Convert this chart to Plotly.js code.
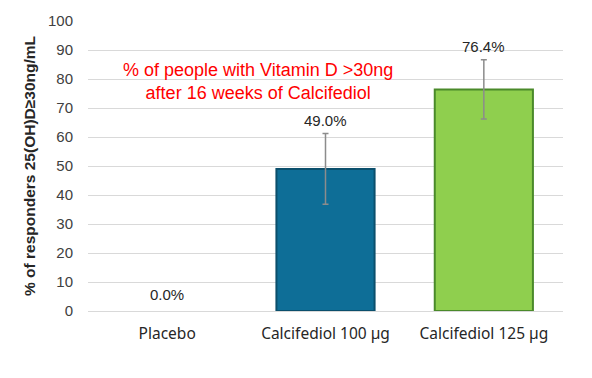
<!DOCTYPE html>
<html>
<head>
<meta charset="utf-8">
<script src="https://cdn.plot.ly/plotly-3.0.1.min.js"></script>
<style>html,body{margin:0;padding:0;background:#fff;}</style>
</head>
<body>
<div id="chart" style="width:592px;height:378px;"></div>
<script>
const categories = ["Placebo", "Calcifediol 100 µg", "Calcifediol 125 µg"];
const values = [0, 49.0, 76.4];
const errors = [null, 12.2, 10.2];
const valueLabels = ["0.0%", "49.0%", "76.4%"];
const yTicks = [0, 10, 20, 30, 40, 50, 60, 70, 80, 90, 100];
const fillColors = ["rgba(0,0,0,0)", "#0E6E97", "#8FCF4E"];
const lineColors = ["rgba(0,0,0,0)", "#0B4F6C", "#4A8A2A"];

const barTrace = {
  type: "bar",
  x: categories,
  y: values,
  width: 0.62,
  marker: { color: fillColors, line: { color: lineColors, width: [0, 2, 2] } },
  hoverinfo: "none"
};

const errIdx = categories.map((c, i) => i).filter(i => errors[i] != null);
const errTrace = {
  type: "scatter",
  mode: "markers",
  x: errIdx.map(i => categories[i]),
  y: errIdx.map(i => values[i]),
  marker: { size: 1, opacity: 0 },
  error_y: { type: "data", array: errIdx.map(i => errors[i]), visible: true, color: "#8C8C8C", thickness: 1.5, width: 3 },
  hoverinfo: "none"
};

const annotations = categories.map((c, i) => ({
  x: c, y: values[i] + (errors[i] || 0), xref: "x", yref: "y",
  text: valueLabels[i], showarrow: false, yanchor: "bottom", yshift: i === 0 ? 6 : 3,
  font: { family: "Liberation Sans, Arial, sans-serif", size: 15, color: "#262626" }
}));
annotations.push({
  xref: "paper", yref: "paper", x: 0.358, y: 0.793, yanchor: "middle", xanchor: "center",
  text: "% of people with Vitamin D >30ng<br>after 16 weeks of Calcifediol",
  showarrow: false, align: "center",
  font: { family: "Liberation Sans, Arial, sans-serif", size: 18, color: "#FF0000" }
});

const layout = {
  width: 592, height: 378,
  margin: { l: 88, r: 29, t: 21, b: 67 },
  paper_bgcolor: "#fff", plot_bgcolor: "#fff",
  showlegend: false,
  xaxis: {
    type: "category", categoryorder: "array", categoryarray: categories,
    showgrid: false, showline: true, linecolor: "#D9D9D9", linewidth: 1,
    ticks: "", tickfont: { family: "Noto Sans, sans-serif", size: 15.5, color: "#262626" },
    ticklabelstandoff: 8
  },
  yaxis: {
    range: [0, 100], tickvals: yTicks, ticktext: yTicks.map(String),
    showgrid: true, gridcolor: "#D9D9D9", gridwidth: 1, zeroline: false,
    showline: false, ticks: "",
    tickfont: { family: "Liberation Sans, Arial, sans-serif", size: 15, color: "#404040" },
    ticklabelstandoff: 14,
    title: { text: "% of responders 25(OH)D≥30ng/mL", standoff: 8,
      font: { family: "Liberation Sans, Arial, sans-serif", size: 15.5, color: "#262626", weight: "bold" } }
  },
  annotations: annotations
};

Plotly.newPlot("chart", [barTrace, errTrace], layout, { displayModeBar: false, staticPlot: true });
</script>
</body>
</html>
